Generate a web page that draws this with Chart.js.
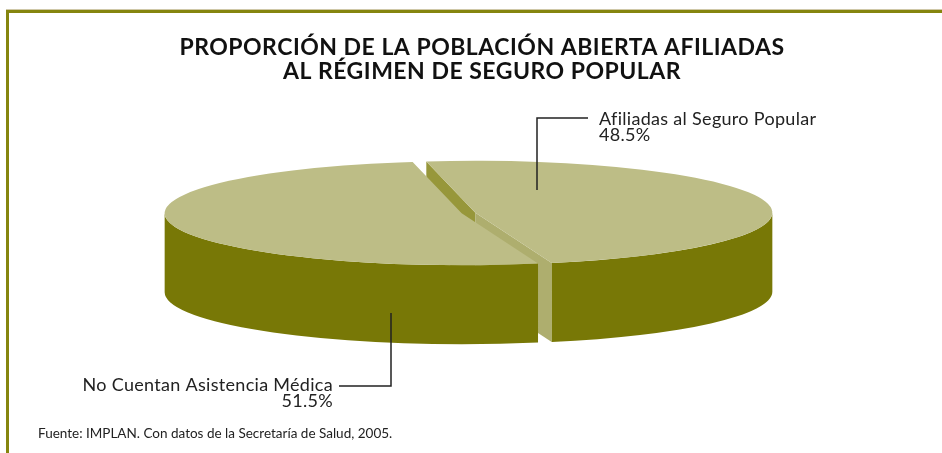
<!DOCTYPE html>
<html>
<head>
<meta charset="utf-8">
<script src="https://cdn.jsdelivr.net/npm/chart.js@4.4.0/dist/chart.umd.min.js"></script>
<style>
  html, body { margin: 0; padding: 0; background: #fff; }
  .marco { position: relative; width: 942px; height: 453px; overflow: hidden; }
  .marco::before {
    content: ''; position: absolute; left: 6px; top: 10px; right: 0; bottom: 0;
    border-top: 3px solid #85850f; border-left: 3px solid #85850f;
    box-shadow: 0 -1px 0 #cfc8a8;
  }
  canvas { position: absolute; left: 0; top: 0; }
</style>
</head>
<body>
<div class="marco"><canvas id="grafica" width="942" height="453"></canvas></div>
<script>
const titulo = ['PROPORCIÓN DE LA POBLACIÓN ABIERTA AFILIADAS', 'AL RÉGIMEN DE SEGURO POPULAR'];
const categorias = ['Afiliadas al Seguro Popular', 'No Cuentan Asistencia Médica'];
const porcentajes = [48.5, 51.5];
const fuente = 'Fuente: IMPLAN. Con datos de la Secretaría de Salud, 2005.';

// geometria de la vista en perspectiva
const CX = 468.5, CY = 213;
const RX = 297, RY = 52;
const PROFUNDIDAD = 79;
const SEPARACION = 7;

const COLOR_TAPA = '#bdbd86';
const COLOR_LADO = '#787806';
const COLOR_CORTE_OSCURO = '#97973a';
const COLOR_CORTE_CLARO = '#aeae6e';

// donde van las etiquetas y sus lineas guia
const etiquetasPos = [
  { x: 599, y: 125, align: 'left', guia: [[537, 190], [537, 118], [588, 118]] },
  { x: 333, y: 391, align: 'right', guia: [[391, 313], [391, 386], [339, 386]] }
];

const pastel3d = {
  id: 'pastel3d',
  beforeDatasetsDraw(chart) {
    const ctx = chart.ctx;
    const arcs = chart.getDatasetMeta(0).data;
    const R = arcs[0].outerRadius, ox = arcs[0].x, oy = arcs[0].y;
    const sx = RX / R, sy = RY / R;
    const prof = PROFUNDIDAD / sy;
    const sep = SEPARACION / sx;

    ctx.save();
    ctx.translate(CX, CY);
    ctx.scale(sx, sy);
    ctx.translate(-ox, -oy);

    const piezas = arcs.map(a => {
      const m = (a.startAngle + a.endAngle) / 2;
      return { a, dx: Math.cos(m) * sep, dy: Math.sin(m) * sep };
    });

    // caras de corte visibles
    piezas.forEach(({ a, dx, dy }) => {
      [[a.startAngle, -1], [a.endAngle, 1]].forEach(([ang, lado]) => {
        if (lado * Math.cos(ang) <= 0) return;
        const x0 = ox + dx, y0 = oy + dy;
        const x1 = x0 + R * Math.cos(ang), y1 = y0 + R * Math.sin(ang);
        ctx.beginPath();
        ctx.moveTo(x0, y0);
        ctx.lineTo(x1, y1);
        ctx.lineTo(x1, y1 + prof);
        ctx.lineTo(x0, y0 + prof);
        ctx.closePath();
        ctx.fillStyle = lado < 0 ? COLOR_CORTE_OSCURO : COLOR_CORTE_CLARO;
        ctx.fill();
      });
    });

    // pared exterior (solo la parte de enfrente)
    piezas.forEach(({ a, dx, dy }) => {
      for (let k = -1; k <= 1; k++) {
        const lo = Math.max(a.startAngle, 2 * Math.PI * k);
        const hi = Math.min(a.endAngle, 2 * Math.PI * k + Math.PI);
        if (hi <= lo) continue;
        ctx.beginPath();
        ctx.arc(ox + dx, oy + dy, R, lo, hi);
        ctx.arc(ox + dx, oy + dy + prof, R, hi, lo, true);
        ctx.closePath();
        ctx.fillStyle = COLOR_LADO;
        ctx.fill();
      }
    });

    // tapas
    piezas.forEach(({ a, dx, dy }) => {
      ctx.save();
      ctx.translate(dx, dy);
      a.draw(ctx);
      ctx.restore();
    });

    ctx.restore();
    return false;
  },
  afterDraw(chart) {
    const ctx = chart.ctx;
    ctx.save();
    ctx.fillStyle = '#111';
    ctx.textAlign = 'center';
    ctx.font = 'bold 23px Lato';
    ctx.letterSpacing = '0.5px';
    ctx.fillText(titulo[0], 482, 55);
    ctx.fillText(titulo[1], 482, 79);

    ctx.fillStyle = '#222';
    ctx.strokeStyle = '#222';
    ctx.lineWidth = 1.5;
    ctx.font = '18px Lato';
    ctx.letterSpacing = '0.3px';
    etiquetasPos.forEach((p, i) => {
      ctx.textAlign = p.align;
      ctx.fillText(categorias[i], p.x, p.y);
      ctx.fillText(porcentajes[i].toFixed(1) + '%', p.x, p.y + 16);
      ctx.beginPath();
      p.guia.forEach(([x, y], j) => j ? ctx.lineTo(x, y) : ctx.moveTo(x, y));
      ctx.stroke();
    });

    ctx.textAlign = 'left';
    ctx.font = '13.5px Lato';
    ctx.letterSpacing = '0px';
    ctx.fillText(fuente, 38, 438);
    ctx.restore();
  }
};

new Chart(document.getElementById('grafica'), {
  type: 'pie',
  data: {
    labels: categorias,
    datasets: [{
      data: porcentajes,
      backgroundColor: COLOR_TAPA,
      borderWidth: 0,
      offset: 0
    }]
  },
  options: {
    responsive: false,
    animation: false,
    events: [],
    rotation: -9.5,
    plugins: {
      legend: { display: false },
      tooltip: { enabled: false }
    }
  },
  plugins: [pastel3d]
});
</script>
</body>
</html>
